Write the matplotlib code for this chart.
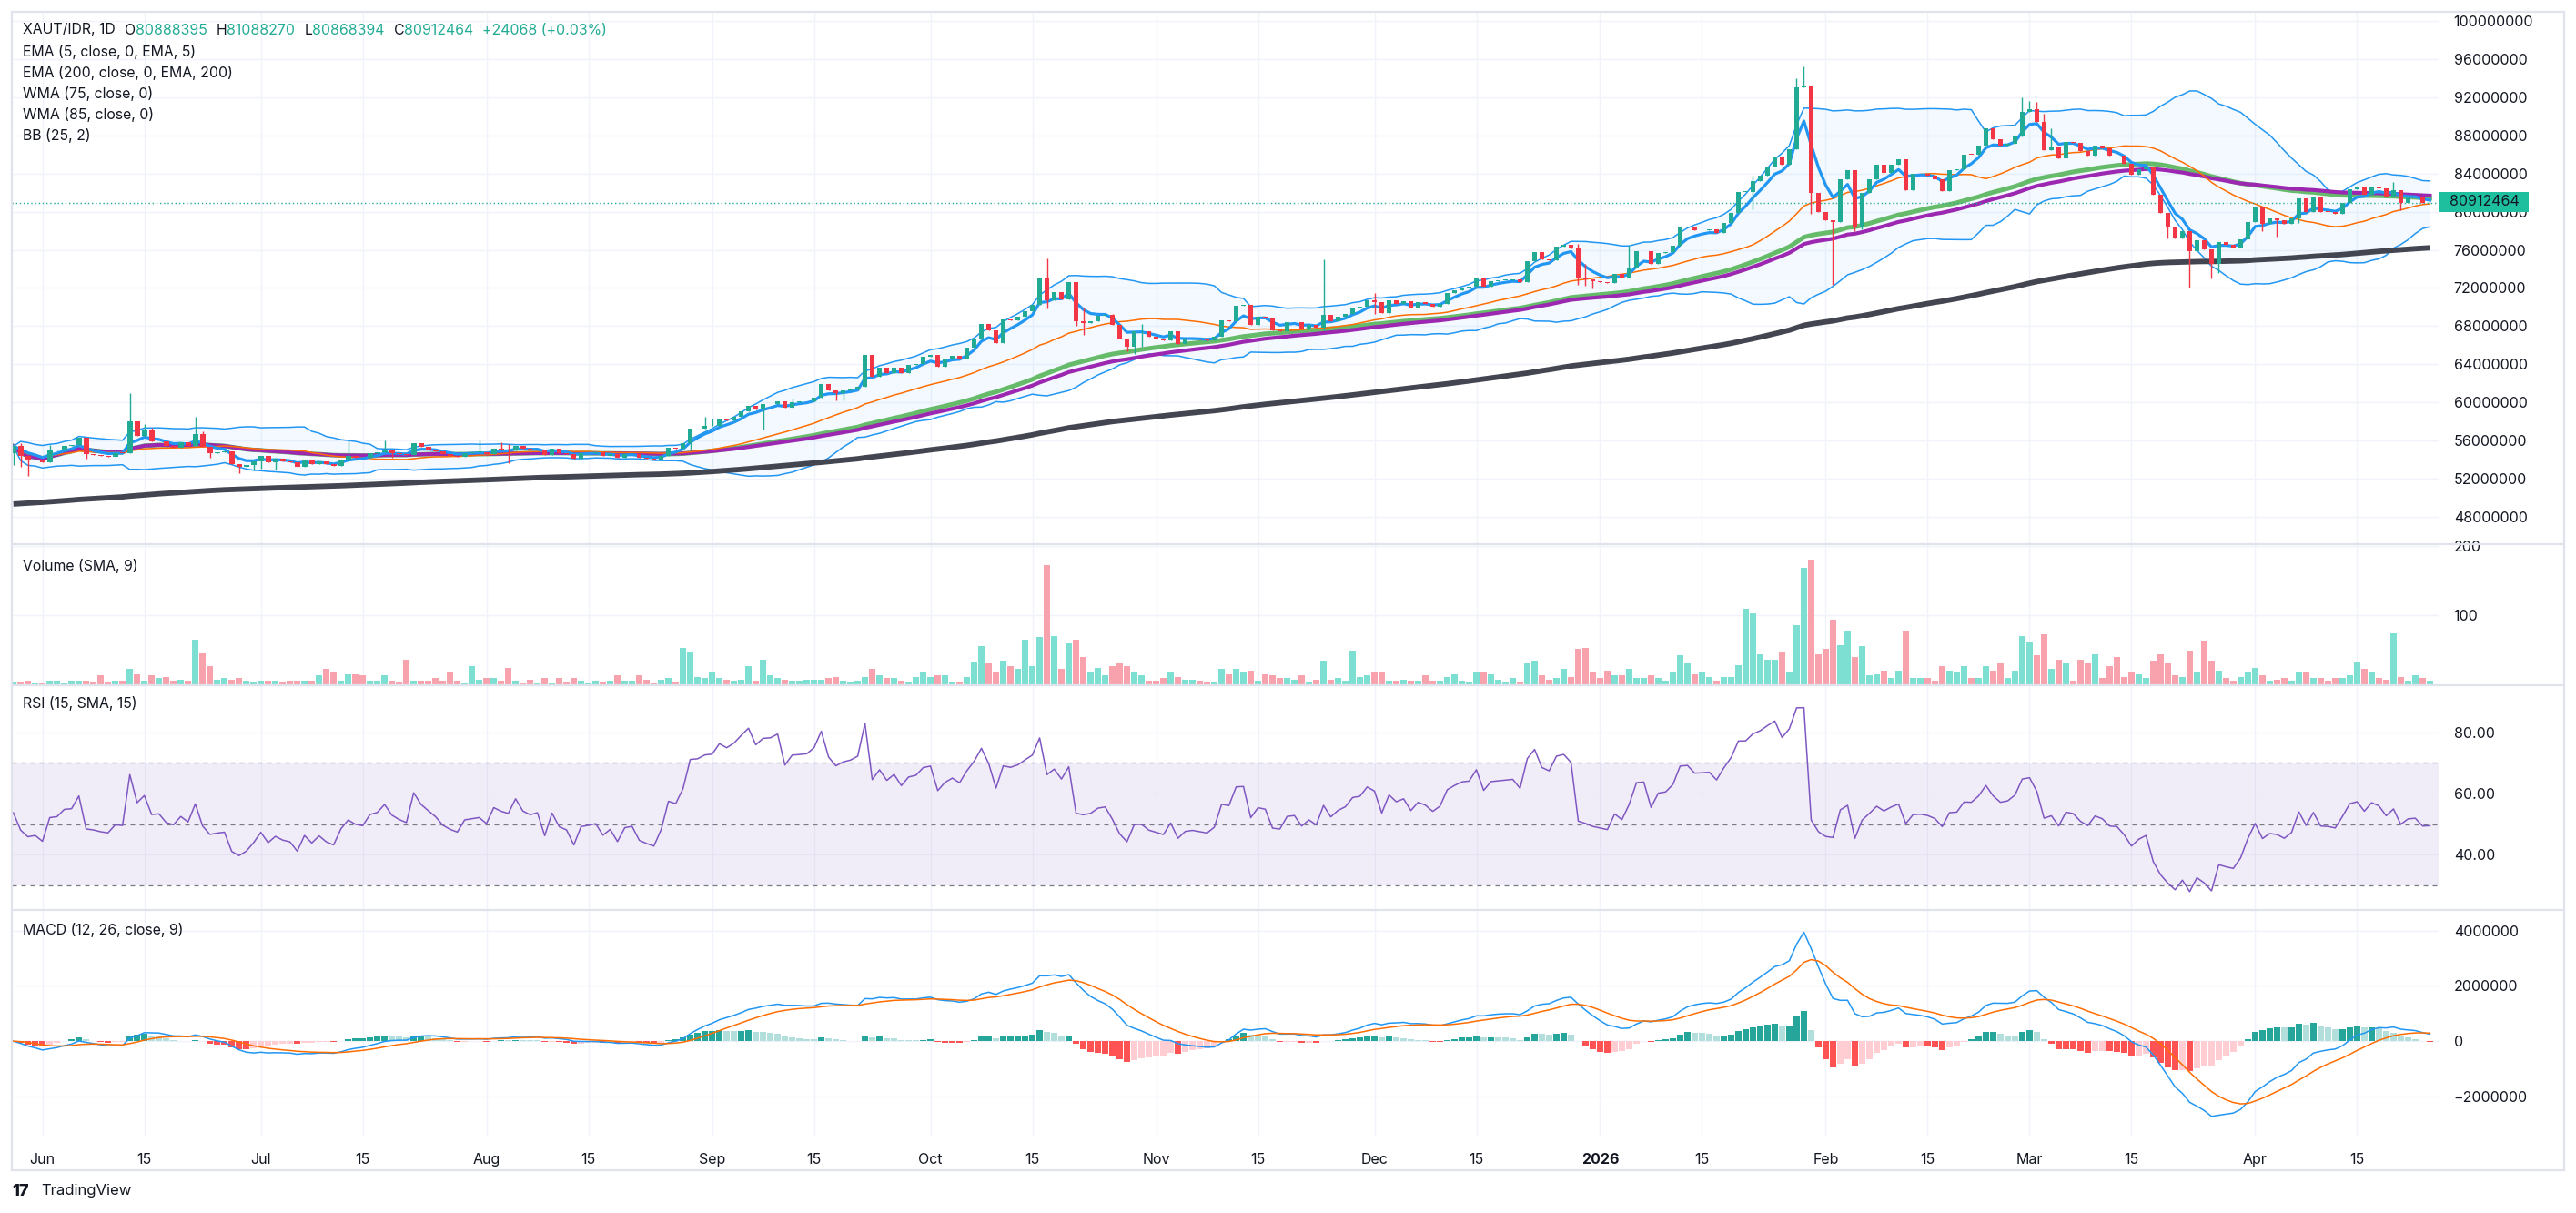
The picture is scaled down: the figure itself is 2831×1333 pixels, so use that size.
"""
XAUT/IDR daily chart, TradingView style
price pane + volume + RSI + MACD
"""
import numpy as np
import pandas as pd
import matplotlib
matplotlib.use("Agg")
import matplotlib.pyplot as plt
from matplotlib.patches import Rectangle
from matplotlib.lines import Line2D

plt.rcParams['font.family'] = ['Inter', 'DejaVu Sans']

# ---------------- data ----------------
start_date = np.datetime64('2025-05-28')   # first candle, one candle per day
first_open_m = 54.72                        # open of the first candle, millions IDR

# daily closes, millions IDR
close_m = [
    55.40, 54.40, 53.98, 54.05, 53.70, 54.98, 55.04, 55.46, 55.50, 56.26,
    54.56, 54.50, 54.40, 54.34, 54.72, 54.69, 57.98, 56.48, 57.06, 55.90,
    55.95, 55.40, 55.26, 55.78, 55.46, 56.64, 55.30, 54.72, 54.80, 54.85,
    53.54, 53.22, 53.44, 53.86, 54.40, 53.76, 54.08, 53.86, 53.76, 53.22,
    53.92, 53.50, 53.82, 53.50, 53.34, 54.02, 54.43, 54.24, 54.18, 54.66,
    54.75, 55.10, 54.72, 54.56, 54.45, 55.74, 55.33, 55.10, 54.88, 54.56,
    54.40, 54.30, 54.72, 54.76, 54.80, 54.62, 55.14, 55.04, 54.98, 55.46,
    55.14, 55.04, 55.10, 54.46, 55.14, 54.72, 54.62, 54.11, 54.66, 54.70,
    54.75, 54.40, 54.56, 54.18, 54.56, 54.60, 54.18, 54.08, 54.00, 54.40,
    55.26, 55.20, 55.74, 57.22, 57.26, 57.50, 57.55, 58.24, 58.15, 58.46,
    59.04, 59.68, 59.30, 59.81, 59.85, 60.16, 59.42, 60.06, 60.10, 60.15,
    60.54, 61.92, 61.22, 60.96, 61.22, 61.34, 61.60, 65.02, 62.66, 63.65,
    63.10, 63.68, 63.10, 63.90, 64.06, 64.80, 64.96, 63.78, 64.48, 64.86,
    64.64, 65.70, 66.66, 68.26, 67.52, 66.18, 68.74, 68.65, 68.96, 69.60,
    70.24, 73.06, 70.72, 71.52, 70.82, 72.58, 68.48, 68.32, 68.48, 69.06,
    69.20, 68.10, 66.66, 65.82, 67.42, 67.45, 66.90, 66.70, 66.50, 67.42,
    66.08, 66.62, 66.70, 66.60, 66.50, 66.88, 68.58, 68.50, 70.14, 70.18,
    68.16, 69.00, 68.90, 67.52, 67.45, 68.38, 68.45, 67.74, 68.16, 67.84,
    69.22, 68.49, 68.97, 69.23, 69.93, 70.03, 70.75, 70.55, 69.39, 70.73,
    70.35, 70.57, 69.93, 70.50, 70.35, 70.03, 70.35, 71.46, 71.78, 72.04,
    72.10, 72.96, 72.10, 72.74, 72.80, 72.85, 72.90, 72.58, 74.82, 75.78,
    75.04, 74.90, 76.32, 76.51, 76.19, 73.06, 72.90, 72.70, 72.60, 72.50,
    73.44, 73.12, 74.11, 75.84, 75.90, 74.50, 75.68, 75.78, 76.42, 78.33,
    78.40, 78.01, 78.05, 78.10, 77.76, 78.81, 79.87, 82.07, 82.10, 83.22,
    83.76, 84.72, 85.68, 84.95, 86.54, 93.03, 93.10, 81.94, 79.93, 79.07,
    78.90, 83.44, 84.31, 78.43, 81.94, 83.35, 84.88, 84.08, 84.88, 85.46,
    82.26, 83.92, 84.00, 83.80, 83.35, 82.17, 84.31, 84.40, 86.00, 85.97,
    86.96, 88.72, 87.60, 86.89, 87.10, 87.92, 90.47, 90.70, 89.42, 86.48,
    86.80, 85.58, 87.34, 87.18, 86.32, 85.84, 86.93, 86.64, 85.90, 85.84,
    85.04, 83.83, 84.40, 84.72, 81.75, 79.83, 78.43, 77.21, 77.95, 75.84,
    76.96, 76.06, 74.56, 76.80, 76.48, 76.22, 77.12, 78.94, 80.54, 78.72,
    79.26, 79.14, 78.72, 79.26, 81.38, 80.00, 81.44, 80.00, 79.95, 79.80,
    80.96, 82.34, 82.56, 81.76, 82.66, 82.40, 81.60, 82.24, 80.96, 81.44,
    81.50, 80.888395, 80.912464,
]

# long wicks that stick out of the bodies (index -> millions IDR)
wick_high = {1: 55.68, 5: 55.5, 10: 56.26, 16: 61.02, 18: 57.7, 19: 57.3, 25: 58.5,
             26: 57.0, 46: 56.0, 51: 56.0, 64: 56.0, 67: 55.8, 68: 55.6, 95: 58.46,
             96: 58.3, 107: 60.4, 142: 75.1, 147: 69.92, 151: 69.3, 155: 68.2,
             180: 75.0, 187: 71.5, 215: 76.6, 216: 74.5, 222: 76.4, 239: 83.76,
             245: 94.0, 246: 95.2, 253: 84.24, 276: 92.0, 277: 91.6, 278: 91.5,
             279: 90.3, 280: 88.7, 327: 83.1, 332: 81.08827}
wick_low = {0: 53.44, 1: 53.2, 2: 52.3, 10: 54.08, 27: 54.2, 31: 52.58, 33: 52.9,
            34: 53.1, 36: 53.0, 52: 54.2, 68: 53.6, 93: 55.04, 103: 57.12, 113: 60.2,
            114: 60.2, 142: 69.86, 146: 68.0, 147: 67.04, 153: 65.4, 154: 65.12,
            155: 65.8, 180: 67.6, 187: 69.3, 215: 72.35, 216: 72.2, 217: 71.94,
            239: 80.25, 247: 79.77, 250: 72.36, 253: 78.0, 254: 78.1, 296: 77.2,
            299: 72.0, 302: 73.0, 303: 73.6, 309: 78.0, 311: 77.4, 314: 78.8,
            328: 80.16, 332: 80.868394}

volume = [
    4.4, 4, 6, 3, 3, 6, 6, 3, 6, 6, 6, 4, 14, 4, 7, 6, 23, 16, 6, 14,
    10, 12, 7, 8, 7, 66, 46, 27, 8, 10, 8, 10, 7, 4, 7, 6, 7, 4, 6, 6,
    6, 7, 15, 24, 20, 7, 16, 16, 14, 7, 6, 14, 7, 4, 36, 7, 7, 7, 10, 7,
    18, 7, 3, 27, 8, 10, 10, 7, 25, 6, 3, 8, 3, 10, 3, 10, 4, 11, 7, 3,
    7, 4, 7, 14, 6, 6, 14, 8, 3, 8, 10, 4, 54, 48, 12, 11, 20, 10, 8, 6,
    8, 28, 7, 37, 15, 10, 8, 6, 6, 8,
    8, 8, 10, 12, 7, 4, 6, 12, 24, 14, 10, 11, 6, 4, 12, 18, 12, 15, 14, 4,
    4, 12, 33, 56, 31, 18, 35, 28, 24, 65, 28, 69, 173, 70, 23, 60, 65, 41, 20, 25,
    14, 27, 32, 27, 19, 14, 7, 7, 10, 19, 12, 8, 8, 7, 4, 4, 23, 16, 23, 20,
    21, 7, 16, 15, 11, 11, 8, 14, 4, 8, 35, 8, 10, 7, 50, 12, 15, 20, 20, 7,
    7, 8, 6, 7, 15, 6, 7, 12, 16, 7, 4, 19, 19, 16, 8, 4, 10, 4, 31, 35,
    14, 8, 10, 23, 12, 52, 53, 20, 11, 21, 14, 15,
    24, 11, 10, 14, 10, 7, 19, 43, 32, 16, 20, 12, 7, 12, 12, 29, 110, 103, 45, 37,
    36, 48, 20, 86, 168, 181, 44, 52, 94, 58, 78, 41, 56, 14, 16, 21, 11, 21, 78, 11,
    10, 10, 7, 28, 21, 19, 28, 10, 10, 27, 21, 32, 10, 21, 71, 62, 43, 73, 23, 37,
    31, 7, 36, 31, 45, 10, 27, 40, 12, 18, 16, 11, 35, 45, 31, 15, 12, 50, 20, 64,
    35, 21, 10, 6, 12, 19, 25, 15, 6, 8, 10, 7, 18, 18, 11, 11, 6, 10, 10, 14,
    33, 23, 20, 10, 8, 74, 12, 7, 14, 11, 6,
]

ema200_seed_m = 49.28          # EMA 200 value at the left edge of the chart
rsi_seed_move_m = 0.30         # average daily gain / loss before the chart (RSI ~50 at left)
last_ohlc = ['80888395', '81088270', '80868394', '80912464']
last_change = '+24068 (+0.03%)'

price_ticks = list(range(48000000, 100000001, 4000000))
volume_ticks = [100, 200]
rsi_ticks = [40, 60, 80]
macd_ticks = [-2000000, 0, 2000000, 4000000]

# ---------------- colours ----------------
UP = '#22ab94'
DOWN = '#f23645'
VOL_UP = '#7ddfd2'
VOL_DOWN = '#f7a2ad'
GRID = '#f0f3fa'
BORDER = '#e0e3eb'
TXT = '#131722'

# ---------------- indicators ----------------
close = np.array(close_m) * 1e6
n = len(close)
x = np.arange(n)
opens = np.r_[first_open_m * 1e6, close[:-1]]
highs = np.maximum(opens, close)
lows = np.minimum(opens, close)
for i, v in wick_high.items():
    highs[i] = max(highs[i], v * 1e6)
for i, v in wick_low.items():
    lows[i] = min(lows[i], v * 1e6)


def ema(arr, length, seed=None):
    a = 2.0 / (length + 1)
    out = np.empty_like(arr)
    prev = arr[0] if seed is None else seed
    for i, v in enumerate(arr):
        prev = prev + a * (v - prev)
        out[i] = prev
    return out


def wma(arr, length):
    out = np.empty_like(arr)
    for i in range(len(arr)):
        w = arr[max(0, i - length + 1):i + 1]
        k = np.arange(1, len(w) + 1)
        out[i] = (w * k).sum() / k.sum()
    return out


s = pd.Series(close)
ema5 = ema(close, 5)
ema200 = ema(close, 200, seed=ema200_seed_m * 1e6)
wma75 = wma(close, 75)
wma85 = wma(close, 85)
bb_mid = s.rolling(25, min_periods=1).mean().values
bb_std = s.rolling(25, min_periods=1).std(ddof=0).values
bb_up = bb_mid + 2 * bb_std
bb_lo = bb_mid - 2 * bb_std

# RSI 15 with Wilder smoothing
rsi = np.empty(n)
ag = al = rsi_seed_move_m * 1e6
d_all = np.diff(close, prepend=opens[0])
for i, d in enumerate(d_all):
    ag = (ag * 14 + max(d, 0)) / 15
    al = (al * 14 + max(-d, 0)) / 15
    rsi[i] = 100 - 100 / (1 + ag / al)

macd = ema(close, 12) - ema(close, 26)
signal = ema(macd, 9)
hist = macd - signal

# ---------------- layout (pixel based) ----------------
W, H = 2831, 1333
fig = plt.figure(figsize=(W / 100, H / 100), dpi=100)
fig.patch.set_facecolor('white')

PX0, PX1 = 13, 2680


def add_pane(y0, y1):
    ax = fig.add_axes([PX0 / W, 1 - y1 / H, (PX1 - PX0) / W, (y1 - y0) / H])
    for sp in ax.spines.values():
        sp.set_visible(False)
    ax.set_facecolor('white')
    ax.yaxis.tick_right()
    ax.tick_params(axis='y', length=0, pad=12, labelsize=11.5, labelcolor=TXT)
    ax.tick_params(axis='x', length=0)
    return ax


ax_p = add_pane(13, 597)
ax_v = add_pane(599, 753)
ax_r = add_pane(753, 1000)
ax_m = add_pane(1000, 1248)

xlim = (-0.21, 333.2)

# month ticks
tick_dates = ['2025-06-01', '2025-06-15', '2025-07-01', '2025-07-15', '2025-08-01',
              '2025-08-15', '2025-09-01', '2025-09-15', '2025-10-01', '2025-10-15',
              '2025-11-01', '2025-11-15', '2025-12-01', '2025-12-15', '2026-01-01',
              '2026-01-15', '2026-02-01', '2026-02-15', '2026-03-01', '2026-03-15',
              '2026-04-01', '2026-04-15']
tick_labels = ['Jun', '15', 'Jul', '15', 'Aug', '15', 'Sep', '15', 'Oct', '15', 'Nov', '15',
               'Dec', '15', '2026', '15', 'Feb', '15', 'Mar', '15', 'Apr', '15']
tick_pos = [(np.datetime64(d) - start_date).astype(int) for d in tick_dates]

for ax in (ax_p, ax_v, ax_r, ax_m):
    ax.set_xlim(*xlim)
    ax.set_xticks(tick_pos)
    ax.grid(True, color=GRID, linewidth=1.0, zorder=0)
    ax.set_axisbelow(True)
    ax.tick_params(axis='x', labelbottom=False)

# ---------------- price pane ----------------
ax_p.set_ylim(45.23e6, 100.95e6)
ax_p.set_yticks(price_ticks)
ax_p.set_yticklabels([str(t) for t in price_ticks])

ax_p.fill_between(x, bb_lo, bb_up, color='#2196f3', alpha=0.05, linewidth=0, zorder=1)
ax_p.plot(x, bb_up, color='#2196f3', lw=1.1, zorder=2)
ax_p.plot(x, bb_lo, color='#2196f3', lw=1.1, zorder=2)
ax_p.plot(x, ema200, color='#434651', lw=4.2, zorder=2, solid_capstyle='butt')
ax_p.plot(x, wma75, color='#66bb6a', lw=3.6, zorder=2)
ax_p.plot(x, wma85, color='#9c27b0', lw=3.0, zorder=2)
ax_p.plot(x, bb_mid, color='#ff6d00', lw=1.1, zorder=2)
ax_p.plot(x, ema5, color='#2196f3', lw=2.3, zorder=3)

up = close >= opens
col = np.where(up, UP, DOWN)
body_lo = np.minimum(opens, close)
body_h = np.maximum(np.abs(close - opens), 0.06e6)
ax_p.vlines(x, lows, highs, colors=col, lw=1.0, zorder=4)
ax_p.bar(x, body_h, bottom=body_lo, width=0.72, color=col, linewidth=0, zorder=5)

# last price line
ax_p.axhline(close[-1], color=UP, lw=1.0, ls=(0, (1, 2)), zorder=2)

# ---------------- volume pane ----------------
vol = np.array(volume, dtype=float)
ax_v.set_ylim(0, 201.3)
ax_v.set_yticks(volume_ticks)
ax_v.set_yticklabels([str(t) for t in volume_ticks])
ax_v.bar(x, vol, width=0.84, color=np.where(up, VOL_UP, VOL_DOWN), linewidth=0, zorder=2)

# ---------------- RSI pane ----------------
ax_r.set_ylim(22.0, 95.36)
ax_r.set_yticks(rsi_ticks)
ax_r.set_yticklabels(['%.2f' % t for t in rsi_ticks])
ax_r.axhspan(30, 70, color='#7e57c2', alpha=0.1, lw=0, zorder=1)
for lvl in (30, 50, 70):
    ax_r.axhline(lvl, color='#787b86', lw=0.9, ls=(0, (4, 4)), zorder=2)
ax_r.plot(x, rsi, color='#7e57c2', lw=1.1, zorder=3)

# ---------------- MACD pane ----------------
ax_m.set_ylim(-3.42e6, 4.75e6)
ax_m.set_yticks(macd_ticks)
ax_m.set_yticklabels([str(t).replace('-', '\u2212') for t in macd_ticks])
prev_h = np.r_[hist[0], hist[:-1]]
hcol = np.where(hist >= 0,
                np.where(hist > prev_h, '#26a69a', '#b2dfdb'),
                np.where(hist < prev_h, '#ff5252', '#ffcdd2'))
ax_m.bar(x, hist, width=0.8, color=hcol, linewidth=0, zorder=2)
ax_m.plot(x, macd, color='#2196f3', lw=1.1, zorder=3)
ax_m.plot(x, signal, color='#ff6d00', lw=1.1, zorder=3)

ax_m.tick_params(axis='x', labelbottom=True, pad=14, labelsize=11.5, labelcolor=TXT)
ax_m.set_xticklabels(tick_labels)
for lab in ax_m.get_xticklabels():
    if lab.get_text() == '2026':
        lab.set_fontweight('bold')

# ---------------- frame and separators ----------------
frame = Rectangle((13 / W, 1 - 1286 / H), (2818 - 13) / W, (1286 - 13) / H,
                  transform=fig.transFigure, fill=False, edgecolor=BORDER, lw=1.6, zorder=10)
fig.add_artist(frame)
for yy in (598, 753, 1000):
    fig.add_artist(Line2D([13 / W, 2818 / W], [1 - yy / H, 1 - yy / H],
                          transform=fig.transFigure, color=BORDER, lw=1.6, zorder=10))

# current price label box
fig.add_artist(Rectangle((2680 / W, 1 - 233 / H), 99 / W, 22 / H, transform=fig.transFigure,
                         facecolor='#1dbf9f', edgecolor='none', zorder=11))
fig.text(2692 / W, 1 - 222 / H, last_ohlc[3], color=TXT, fontsize=11.5, va='center',
         ha='left', zorder=12)

# ---------------- legends ----------------
LEG = 11.4
renderer = fig.canvas.get_renderer()


def text_run(x0, y0, parts, gap=10):
    xx = x0
    for txt, c, g in parts:
        t = fig.text(xx / W, 1 - y0 / H, txt, color=c, fontsize=LEG, va='center')
        xx += t.get_window_extent(renderer).width + (gap if g else 0)


head = [('XAUT/IDR, 1D', TXT, True)]
for lab, val in zip('OHLC', last_ohlc):
    head += [(lab, TXT, False), (val, UP, True)]
head += [(last_change, UP, False)]
text_run(25, 33, head)

legend_lines = ['EMA (5, close, 0, EMA, 5)', 'EMA (200, close, 0, EMA, 200)',
                'WMA (75, close, 0)', 'WMA (85, close, 0)', 'BB (25, 2)']
for k, s_ in enumerate(legend_lines):
    fig.text(25 / W, 1 - (57 + 23 * k) / H, s_, color=TXT, fontsize=LEG, va='center')

fig.text(25 / W, 1 - 622 / H, 'Volume (SMA, 9)', color=TXT, fontsize=LEG, va='center')
fig.text(25 / W, 1 - 773 / H, 'RSI (15, SMA, 15)', color=TXT, fontsize=LEG, va='center')
fig.text(25 / W, 1 - 1022 / H, 'MACD (12, 26, close, 9)', color=TXT, fontsize=LEG, va='center')

# TradingView watermark
fig.text(13 / W, 1 - 1309 / H, '17', color=TXT, fontsize=13, fontweight='heavy',
         va='center', ha='left')
fig.text(45 / W, 1 - 1309 / H, 'TradingView', color=TXT, fontsize=12, va='center', ha='left')

fig.savefig('out.png', dpi=100, facecolor='white')
